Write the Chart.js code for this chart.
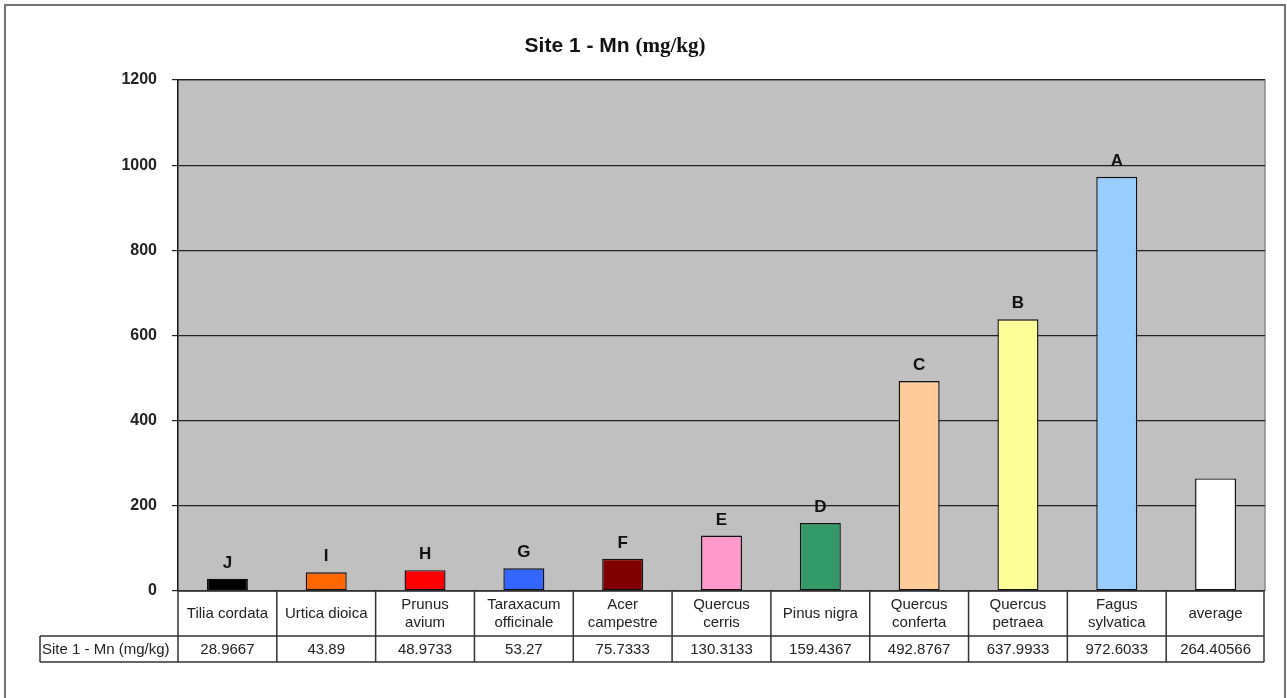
<!DOCTYPE html>
<html>
<head>
<meta charset="utf-8">
<script src="https://cdn.jsdelivr.net/npm/chart.js@4/dist/chart.umd.min.js"></script>
<style>
  html, body { margin: 0; padding: 0; background: #fff; }
  #wrap { width: 1287px; height: 698px; position: relative; }
</style>
</head>
<body>
<div id="wrap"><canvas id="c" width="1287" height="698"></canvas></div>
<script>
// Species (table header cells; inner arrays are line breaks)
const categories = [
  'Tilia cordata', 'Urtica dioica', ['Prunus', 'avium'], ['Taraxacum', 'officinale'],
  ['Acer', 'campestre'], ['Quercus', 'cerris'], 'Pinus nigra', ['Quercus', 'conferta'],
  ['Quercus', 'petraea'], ['Fagus', 'sylvatica'], 'average'
];
// Mn concentration, mg/kg
const mnValues = [28.9667, 43.89, 48.9733, 53.27, 75.7333, 130.3133, 159.4367, 492.8767, 637.9933, 972.6033, 264.40566];
// Ranking letters above bars (none for the average)
const rankLetters = ['J', 'I', 'H', 'G', 'F', 'E', 'D', 'C', 'B', 'A', ''];
const barColors = ['#000000', '#FF6600', '#FF0000', '#3366FF', '#800000', '#FF99CC', '#339966', '#FFCC99', '#FFFF99', '#99CCFF', '#FFFFFF'];
const seriesName = 'Site 1 - Mn (mg/kg)';
const yTicks = [0, 200, 400, 600, 800, 1000, 1200];

const frame = {
  id: 'frame',
  beforeDraw(chart) {
    const { ctx, chartArea: a } = chart;
    ctx.save();
    ctx.fillStyle = '#fff';
    ctx.fillRect(0, 0, chart.width, chart.height);
    ctx.fillStyle = '#C0C0C0';
    ctx.fillRect(a.left, a.top, a.right - a.left, a.bottom - a.top);
    ctx.strokeStyle = '#8a8a8a';
    ctx.lineWidth = 1.5;
    ctx.beginPath();
    ctx.moveTo(a.left, a.top); ctx.lineTo(a.right, a.top); ctx.lineTo(a.right, a.bottom);
    ctx.stroke();
    ctx.restore();
  },
  afterDraw(chart) {
    const { ctx } = chart;
    ctx.save();
    // outer frame
    ctx.strokeStyle = '#737373';
    ctx.lineWidth = 2;
    ctx.strokeRect(5, 5, 1280, 700);
    // title, mixed fonts
    const t1 = 'Site 1 - Mn ';
    const t2 = '(mg/kg)';
    ctx.fillStyle = '#111';
    ctx.textBaseline = 'alphabetic';
    ctx.font = 'bold 21px "Liberation Sans", Arial, sans-serif';
    const w1 = ctx.measureText(t1).width;
    ctx.font = 'bold 21px "Liberation Serif", "Times New Roman", serif';
    const w2 = ctx.measureText(t2).width;
    const x0 = 615 - (w1 + w2) / 2;
    ctx.font = 'bold 21px "Liberation Sans", Arial, sans-serif';
    ctx.textAlign = 'left';
    ctx.fillText(t1, x0, 52);
    ctx.font = 'bold 21px "Liberation Serif", "Times New Roman", serif';
    ctx.fillText(t2, x0 + w1, 52);
    ctx.restore();
  }
};

const letterLabels = {
  id: 'letterLabels',
  afterDatasetsDraw(chart) {
    const { ctx } = chart;
    const meta = chart.getDatasetMeta(0);
    ctx.save();
    ctx.fillStyle = '#111';
    ctx.font = 'bold 17px "Liberation Sans", Arial, sans-serif';
    ctx.textAlign = 'center';
    ctx.textBaseline = 'alphabetic';
    meta.data.forEach((bar, i) => {
      if (rankLetters[i]) ctx.fillText(rankLetters[i], bar.x, bar.y - 11);
    });
    ctx.restore();
  }
};

// data table under the plot, columns aligned with the x scale
const dataTable = {
  id: 'dataTable',
  afterDraw(chart) {
    const { ctx, chartArea: a } = chart;
    const xs = chart.scales.x;
    const n = categories.length;
    const half = (xs.getPixelForValue(1) - xs.getPixelForValue(0)) / 2;
    const top = a.bottom, mid = top + 45, bot = mid + 26;
    const labelLeft = 40;
    ctx.save();
    ctx.strokeStyle = '#333';
    ctx.lineWidth = 1.5;
    ctx.beginPath();
    // horizontal rules
    ctx.moveTo(a.left, top); ctx.lineTo(a.right - 1, top);
    ctx.moveTo(labelLeft, mid); ctx.lineTo(a.right - 1, mid);
    ctx.moveTo(labelLeft, bot); ctx.lineTo(a.right - 1, bot);
    // row-label box left edge
    ctx.moveTo(labelLeft, mid); ctx.lineTo(labelLeft, bot);
    // column dividers
    for (let i = 0; i <= n; i++) {
      const x = i < n ? xs.getPixelForValue(i) - half : xs.getPixelForValue(n - 1) + half - 1;
      ctx.moveTo(x, top); ctx.lineTo(x, bot);
    }
    ctx.stroke();

    ctx.fillStyle = '#222';
    ctx.font = '15px "Liberation Sans", Arial, sans-serif';
    ctx.textBaseline = 'middle';
    ctx.textAlign = 'center';
    categories.forEach((c, i) => {
      const x = xs.getPixelForValue(i);
      const lines = Array.isArray(c) ? c : [c];
      const lh = 18;
      const y0 = (top + mid) / 2 - (lines.length - 1) * lh / 2;
      lines.forEach((ln, k) => ctx.fillText(ln, x, y0 + k * lh));
      ctx.fillText(String(mnValues[i]), x, (mid + bot) / 2 + 1);
    });
    ctx.textAlign = 'left';
    ctx.fillText(seriesName, labelLeft + 2, (mid + bot) / 2 + 1);
    ctx.restore();
  }
};

new Chart(document.getElementById('c'), {
  type: 'bar',
  data: {
    labels: categories.map(c => Array.isArray(c) ? c.join(' ') : c),
    datasets: [{
      label: seriesName,
      data: mnValues,
      backgroundColor: barColors,
      borderColor: '#111',
      borderWidth: 1.4,
      borderSkipped: false,
      categoryPercentage: 1,
      barPercentage: 0.415
    }]
  },
  options: {
    responsive: false,
    animation: false,
    layout: { padding: { left: 0, top: 80, right: 22, bottom: 107 } },
    plugins: {
      legend: { display: false },
      title: { display: false },
      tooltip: { enabled: false }
    },
    scales: {
      x: { display: false },
      y: {
        min: 0, max: 1200,
        afterFit(scale) { scale.width = 178; },
        afterBuildTicks(scale) { scale.ticks = yTicks.map(v => ({ value: v })); },
        ticks: {
          padding: 15,
          color: '#222',
          callback: v => String(v),
          font: { family: '"Liberation Sans", Arial, sans-serif', size: 16, weight: 'bold' }
        },
        grid: { color: '#222', lineWidth: 1.2, tickLength: 6, drawTicks: true },
        border: { display: true, color: '#111', width: 1.5 }
      }
    }
  },
  plugins: [frame, letterLabels, dataTable]
});
</script>
</body>
</html>
